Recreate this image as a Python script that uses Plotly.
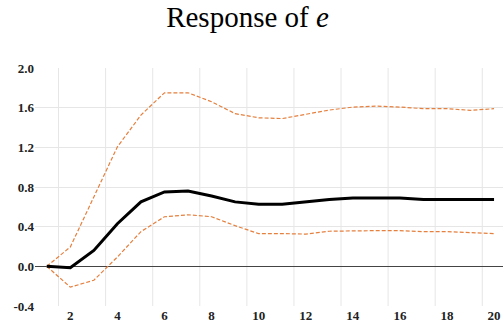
import plotly.graph_objects as go

periods = list(range(1, 21))
response = [0.0, -0.015, 0.16, 0.43, 0.65, 0.75, 0.76, 0.71, 0.65, 0.626,
            0.626, 0.65, 0.674, 0.69, 0.69, 0.69, 0.675, 0.675, 0.674, 0.674]
upper = [0.0, 0.195, 0.70, 1.205, 1.525, 1.75, 1.75, 1.66, 1.54, 1.498,
         1.49, 1.535, 1.576, 1.606, 1.616, 1.606, 1.59, 1.59, 1.573, 1.59]
lower = [0.0, -0.21, -0.14, 0.094, 0.35, 0.50, 0.52, 0.50, 0.41, 0.33,
         0.33, 0.325, 0.354, 0.36, 0.36, 0.36, 0.35, 0.35, 0.34, 0.33]
x_ticks = list(range(2, 21, 2))
y_ticks = [-0.4, 0.0, 0.4, 0.8, 1.2, 1.6, 2.0]
y_ticklabels = ["-0.4", "0.0", "0.4", "0.8", "1.2", "1.6", "2.0"]

orange = "#E5803F"
fig = go.Figure()
fig.add_trace(go.Scatter(x=periods, y=upper, mode="lines",
                         line=dict(color=orange, width=1.2, dash="4px,2px")))
fig.add_trace(go.Scatter(x=periods, y=lower, mode="lines",
                         line=dict(color=orange, width=1.2, dash="4px,2px")))
fig.add_trace(go.Scatter(x=periods, y=response, mode="lines",
                         line=dict(color="black", width=3)))

# vertical gridlines sit half a period left of each labelled tick
shapes = []
for t in x_ticks:
    shapes.append(dict(type="line", xref="x", yref="paper", x0=t - 0.5, x1=t - 0.5,
                       y0=0, y1=1, line=dict(color="#e6e6e6", width=1), layer="below"))

serif = "Liberation Serif"
tickfont = dict(family=serif, size=13, color="#222", weight="bold")
fig.update_layout(
    width=503, height=330,
    margin=dict(l=35, r=0, t=68, b=24, autoexpand=False),
    paper_bgcolor="white", plot_bgcolor="white",
    showlegend=False,
    hovermode=False,
    title=dict(text="Response of <i>e</i>", x=247.5 / 503, xanchor="center",
               y=1 - 17 / 330, yanchor="middle", xref="container", yref="container",
               font=dict(family=serif, size=29, color="black")),
    shapes=shapes,
    xaxis=dict(range=[0.5, 20.38], tickvals=x_ticks, showgrid=False, zeroline=False,
               showline=False, ticks="", tickfont=tickfont, ticklabeloverflow="allow",
               automargin=False, ticklabelstandoff=0),
    yaxis=dict(range=[-0.4, 2.0], tickvals=y_ticks, ticktext=y_ticklabels,
               showgrid=True, gridcolor="#e6e6e6", gridwidth=1,
               zeroline=True, zerolinecolor="#444", zerolinewidth=1.3,
               showline=False, ticks="", tickfont=tickfont, automargin=False),
)
fig.write_html("out.html", config={"displayModeBar": False},
               post_script="document.body.style.margin='0px';")
